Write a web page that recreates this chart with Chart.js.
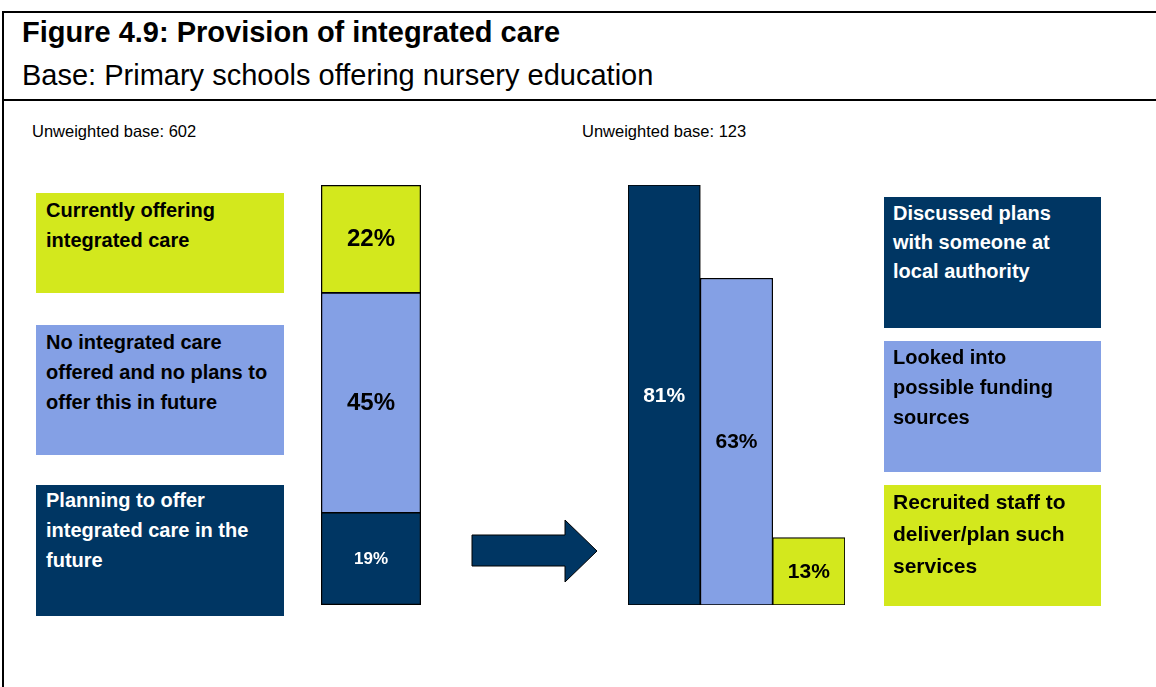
<!DOCTYPE html>
<html>
<head>
<meta charset="utf-8">
<script src="https://cdn.jsdelivr.net/npm/chart.js@4.4.1/dist/chart.umd.min.js"></script>
<style>
  body { margin: 0; width: 1156px; height: 687px; position: relative; overflow: hidden; background: #fff;
         font-family: "Liberation Sans", Arial, Helvetica, sans-serif; }
  .frame { position: absolute; left: 2px; top: 11px; width: 1160px; height: 700px; border-left: 2px solid #000; border-top: 2px solid #000; }
  .sep { position: absolute; left: 2px; top: 99px; width: 1160px; border-top: 2px solid #000; }
  .title { position: absolute; left: 22px; top: 15px; font-size: 29px; line-height: 34px; font-weight: bold; white-space: nowrap; }
  .subtitle { position: absolute; left: 22px; top: 58px; font-size: 29px; line-height: 34px; white-space: nowrap; }
  .base { position: absolute; top: 121px; font-size: 16.5px; line-height: 20px; white-space: nowrap; }
  .box { position: absolute; font-weight: bold; box-sizing: border-box; white-space: nowrap; }
  .wrap { position: absolute; }
  svg { position: absolute; left: 0; top: 0; }
</style>
</head>
<body>
<div class="frame"></div>
<div class="sep"></div>
<div class="title">Figure 4.9: Provision of integrated care</div>
<div class="subtitle">Base: Primary schools offering nursery education</div>
<div class="base" style="left:32px">Unweighted base: 602</div>
<div class="base" style="left:582px">Unweighted base: 123</div>

<div class="wrap" style="left:311px; top:175px; width:120px; height:440px;"><canvas id="leftChart"></canvas></div>
<div class="wrap" style="left:618px; top:175px; width:237px; height:440px;"><canvas id="rightChart"></canvas></div>

<svg width="1156" height="687">
  <polygon points="472,535 565,535 565,520 597,551 565,582 565,566 472,566" fill="#003663" stroke="#000" stroke-width="1"/>
</svg>

<script>
// -------------------------------
// DATA
// -------------------------------
const leftCategories = [
  'Planning to offer integrated care in the future',
  'No integrated care offered and no plans to offer this in future',
  'Currently offering integrated care'
];
const leftValues = [19, 45, 22];

const rightCategories = [
  'Discussed plans with someone at local authority',
  'Looked into possible funding sources',
  'Recruited staff to deliver/plan such services'
];
const rightValues = [81, 63, 13];

const NAVY = '#003663';
const BLUE = '#84A0E5';
const LIME = '#D3E81D';

const leftColors = [NAVY, BLUE, LIME];
const leftText = ['#fff', '#000', '#000'];
const leftFont = [17, 24, 24];

const rightColors = [NAVY, BLUE, LIME];
const rightText = ['#fff', '#000', '#000'];
const rightFont = [21, 21, 21];

// legend boxes (layout only)
const leftBoxes = [
  { i: 2, x: 36, y: 193, w: 248, h: 100, pt: 2, fs: 20, lh: 30, lines: ['Currently offering', 'integrated care'] },
  { i: 1, x: 36, y: 325, w: 248, h: 130, pt: 2, fs: 20, lh: 30, lines: ['No integrated care', 'offered and no plans to', 'offer this in future'] },
  { i: 0, x: 36, y: 485, w: 248, h: 131, pt: 0, fs: 20, lh: 30, lines: ['Planning to offer', 'integrated care in the', 'future'] }
];
const rightBoxes = [
  { i: 0, x: 884, y: 197, w: 217, h: 131, pt: 2, fs: 20, lh: 29, lines: ['Discussed plans', 'with someone at', 'local authority'] },
  { i: 1, x: 884, y: 341, w: 217, h: 131, pt: 1, fs: 20, lh: 30, lines: ['Looked into', 'possible funding', 'sources'] },
  { i: 2, x: 884, y: 485, w: 217, h: 121, pt: 1, fs: 21, lh: 32, lines: ['Recruited staff to', 'deliver/plan such', 'services'] }
];

function addBox(b, colors, textColors) {
  const d = document.createElement('div');
  d.className = 'box';
  Object.assign(d.style, {
    left: b.x + 'px', top: b.y + 'px', width: b.w + 'px', height: b.h + 'px',
    background: colors[b.i], color: textColors[b.i], paddingTop: b.pt + 'px',
    paddingLeft: (b.x > 500 ? 9 : 10) + 'px', fontSize: b.fs + 'px', lineHeight: b.lh + 'px'
  });
  d.innerHTML = b.lines.join('<br>');
  document.body.appendChild(d);
}
leftBoxes.forEach(b => addBox(b, leftColors, leftText));
rightBoxes.forEach(b => addBox(b, rightColors, rightText));

// value labels in bar centres
const centreLabels = {
  id: 'centreLabels',
  afterDatasetsDraw(chart, args, opts) {
    const ctx = chart.ctx;
    ctx.save();
    ctx.textAlign = 'center';
    ctx.textBaseline = 'middle';
    chart.data.datasets.forEach((ds, di) => {
      chart.getDatasetMeta(di).data.forEach((el, j) => {
        const k = opts.stacked ? di : j;
        ctx.font = 'bold ' + opts.sizes[k] + 'px "Liberation Sans", Arial, sans-serif';
        ctx.fillStyle = opts.colors[k];
        ctx.fillText(ds.data[j] + '%', el.x, (el.y + el.base) / 2 + 1);
      });
    });
    ctx.restore();
  }
};

const hiddenScales = (max, stacked) => ({
  x: { display: false, stacked: stacked },
  y: { display: false, stacked: stacked, min: 0, max: max }
});

new Chart(document.getElementById('leftChart'), {
  type: 'bar',
  data: {
    labels: [''],
    datasets: leftValues.map((v, i) => ({
      label: leftCategories[i],
      data: [v],
      backgroundColor: leftColors[i],
      borderColor: '#000',
      borderWidth: 1.6,
      borderSkipped: i === 0 ? false : 'start',
      barPercentage: 1,
      categoryPercentage: 1
    }))
  },
  options: {
    responsive: true,
    maintainAspectRatio: false,
    animation: false,
    layout: { padding: 10 },
    plugins: {
      legend: { display: false },
      tooltip: { enabled: false },
      centreLabels: { stacked: true, sizes: leftFont, colors: leftText }
    },
    scales: hiddenScales(leftValues.reduce((a, b) => a + b, 0), true)
  },
  plugins: [centreLabels]
});

new Chart(document.getElementById('rightChart'), {
  type: 'bar',
  data: {
    labels: rightCategories,
    datasets: [{
      data: rightValues,
      backgroundColor: rightColors,
      borderColor: '#000',
      borderWidth: 1.2,
      borderSkipped: false,
      barPercentage: 1,
      categoryPercentage: 1
    }]
  },
  options: {
    responsive: true,
    maintainAspectRatio: false,
    animation: false,
    layout: { padding: { left: 10, right: 10, top: 10, bottom: 10 } },
    plugins: {
      legend: { display: false },
      tooltip: { enabled: false },
      centreLabels: { stacked: false, sizes: rightFont, colors: rightText }
    },
    scales: hiddenScales(Math.max(...rightValues), false)
  },
  plugins: [centreLabels]
});
</script>
</body>
</html>
